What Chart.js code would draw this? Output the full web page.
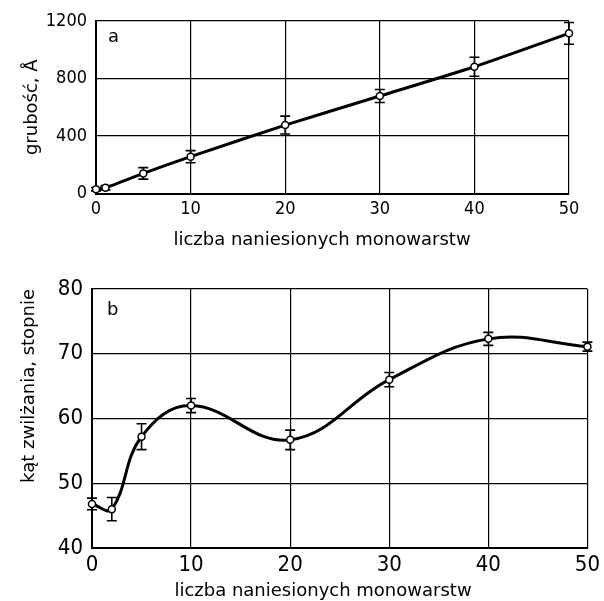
<!DOCTYPE html>
<html>
<head>
<meta charset="utf-8">
<script src="https://cdn.jsdelivr.net/npm/chart.js@4.4.1/dist/chart.umd.min.js"></script>
<style>
  html, body { margin: 0; padding: 0; background: #fff; }
  #wrap { position: relative; width: 604px; height: 601px; }
  #chartA { position: absolute; left: 0; top: 0; }
  #chartB { position: absolute; left: 0; top: 255px; }
</style>
</head>
<body>
<div id="wrap">
  <canvas id="chartA" width="604" height="255"></canvas>
  <canvas id="chartB" width="604" height="346"></canvas>
</div>
<script>
// panel a: thickness vs number of monolayers
const layersA = [0, 1, 5, 10, 20, 30, 40, 50];
const thickness = [30, 40, 140, 256, 476, 678, 882, 1114];
const thicknessErr = [12, 15, 40, 42, 62, 45, 66, 76];

// panel b: contact angle vs number of monolayers
const layersB = [0, 2, 5, 10, 20, 30, 40, 50];
const angle = [46.8, 46.0, 57.2, 62.0, 56.7, 66.0, 72.3, 71.1];
const angleErr = [0.9, 1.8, 2.0, 1.1, 1.5, 1.1, 1.0, 0.7];

const xTicks = [0, 10, 20, 30, 40, 50];
const yTicksA = [0, 400, 800, 1200];
const yTicksB = [40, 50, 60, 70, 80];

const xTitle = 'liczba naniesionych monowarstw';
const yTitleA = 'grubość, Å';
const yTitleB = 'kąt zwilżania, stopnie';

const titleFont = { family: 'DejaVu Sans', size: 18 };

// vertical error bars, drawn under the points
const errorBars = {
  id: 'errorBars',
  beforeDatasetsDraw(chart, args, opts) {
    const { ctx, scales: { x, y } } = chart;
    const pts = chart.data.datasets[0].data;
    ctx.save();
    ctx.strokeStyle = '#000';
    ctx.lineWidth = 1.6;
    pts.forEach((p, i) => {
      const px = x.getPixelForValue(p.x);
      const top = y.getPixelForValue(p.y + opts.errors[i]);
      const bot = y.getPixelForValue(p.y - opts.errors[i]);
      ctx.beginPath();
      ctx.moveTo(px, top); ctx.lineTo(px, bot);
      ctx.moveTo(px - 5, top); ctx.lineTo(px + 5, top);
      ctx.moveTo(px - 5, bot); ctx.lineTo(px + 5, bot);
      ctx.stroke();
    });
    ctx.restore();
  }
};

// panel letter and the x caption (the caption sits a bit left of the axis centre)
const captions = {
  id: 'captions',
  afterDraw(chart, args, opts) {
    const { ctx, chartArea } = chart;
    ctx.save();
    ctx.fillStyle = '#000';
    ctx.font = '18px "DejaVu Sans"';
    ctx.textBaseline = 'middle';
    ctx.fillText(opts.letter, chartArea.left + opts.dx, chartArea.top + opts.dy);
    ctx.textAlign = 'center';
    ctx.textBaseline = 'alphabetic';
    ctx.fillText(opts.xText, opts.xCenter, opts.xBaseline);
    ctx.restore();
  }
};

function makeChart(id, xs, ys, errs, yTicks, opt) {
  const tickFont = { family: '"DejaVu Sans Condensed", "DejaVu Sans", sans-serif', size: opt.tickSize };
  return new Chart(id, {
    type: 'line',
    data: {
      datasets: [{
        data: xs.map((v, i) => ({ x: v, y: ys[i] })),
        borderColor: '#000',
        borderWidth: 3,
        tension: opt.tension,
        pointRadius: 3.5,
        pointBorderWidth: 1.5,
        pointBackgroundColor: '#fff',
        pointBorderColor: '#000',
        clip: false
      }]
    },
    plugins: [errorBars, captions],
    options: {
      responsive: false,
      animation: false,
      devicePixelRatio: 1,
      layout: { padding: opt.padding },
      plugins: {
        legend: { display: false },
        tooltip: { enabled: false },
        errorBars: { errors: errs },
        captions: opt.captions
      },
      scales: {
        x: {
          type: 'linear',
          min: xTicks[0],
          max: xTicks[xTicks.length - 1],
          afterBuildTicks: s => { s.ticks = xTicks.map(v => ({ value: v })); },
          afterFit: s => { s.height = opt.xHeight; },
          grid: { color: '#000', lineWidth: 1.2, drawTicks: false },
          border: { color: '#000', width: 2 },
          ticks: {
            color: '#000', font: tickFont, padding: opt.xTickPad, maxRotation: 0,
            callback: v => String(v)
          }
        },
        y: {
          min: yTicks[0],
          max: yTicks[yTicks.length - 1],
          afterBuildTicks: s => { s.ticks = yTicks.map(v => ({ value: v })); },
          afterFit: s => { s.width = opt.yWidth; },
          grid: { color: '#000', lineWidth: 1.2, drawTicks: false },
          border: { color: '#000', width: 2 },
          ticks: {
            color: '#000', font: tickFont, padding: opt.yTickPad,
            callback: v => String(v)
          },
          title: {
            display: true, text: opt.yTitle, color: '#000', align: opt.yAlign,
            font: titleFont,
            padding: { top: opt.yTitlePad, bottom: 0 }
          }
        }
      }
    }
  });
}

makeChart('chartA', layersA, thickness, thicknessErr, yTicksA, {
  tension: 0.2,
  tickSize: 18,
  padding: { left: 0, right: 35, top: 21, bottom: 0 },
  xHeight: 61.5, yWidth: 96,
  xTickPad: 5,
  yTickPad: 9, yTitle: yTitleA, yAlign: 'center', yTitlePad: 22,
  captions: { letter: 'a', dx: 12, dy: 16, xText: xTitle, xCenter: 322, xBaseline: 245 }
});

makeChart('chartB', layersB, angle, angleErr, yTicksB, {
  tension: 0.4,
  tickSize: 22,
  padding: { left: 0, right: 12, top: 34, bottom: 0 },
  xHeight: 53, yWidth: 92,
  xTickPad: 4,
  yTickPad: 9, yTitle: yTitleB, yAlign: 'end', yTitlePad: 19,
  captions: { letter: 'b', dx: 15, dy: 21, xText: xTitle, xCenter: 323, xBaseline: 341 }
});
</script>
</body>
</html>
